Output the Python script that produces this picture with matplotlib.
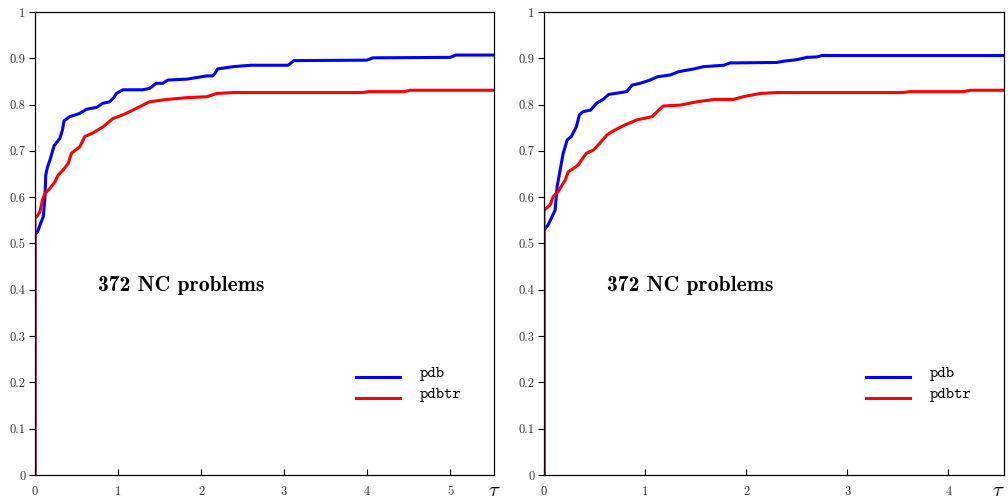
import matplotlib.pyplot as plt

plt.rcParams['mathtext.fontset'] = 'cm'
plt.rcParams['axes.formatter.use_mathtext'] = True

# left panel
tau_max_l = 5.53
pdb_l_x = [0, 0, 0.03, 0.06, 0.1, 0.12, 0.13, 0.15, 0.18, 0.23, 0.3, 0.33, 0.35, 0.42, 0.54, 0.62,
           0.74, 0.82, 0.9, 0.95, 0.98, 1.06, 1.3, 1.38, 1.46, 1.54, 1.6, 1.83, 2.07, 2.14, 2.17,
           2.2, 2.39, 2.6, 3.05, 3.12, 4.0, 4.07, 5.0, 5.07, 5.53]
pdb_l_y = [0, 0.52, 0.525, 0.54, 0.558, 0.6, 0.648, 0.665, 0.68, 0.711, 0.727, 0.745, 0.765, 0.774,
           0.781, 0.79, 0.794, 0.803, 0.806, 0.815, 0.824, 0.832, 0.832, 0.835, 0.846, 0.846, 0.853,
           0.855, 0.862, 0.862, 0.868, 0.877, 0.882, 0.885, 0.885, 0.895, 0.896, 0.901, 0.902,
           0.907, 0.907]
pdbtr_l_x = [0, 0, 0.03, 0.06, 0.09, 0.12, 0.18, 0.24, 0.28, 0.34, 0.4, 0.44, 0.54, 0.6, 0.7, 0.82,
             0.94, 1.06, 1.18, 1.3, 1.38, 1.58, 1.83, 2.07, 2.19, 2.39, 3.95, 4.02, 4.45, 4.52,
             5.53]
pdbtr_l_y = [0, 0.554, 0.56, 0.569, 0.594, 0.608, 0.619, 0.633, 0.648, 0.659, 0.673, 0.695, 0.709,
             0.731, 0.739, 0.752, 0.77, 0.778, 0.788, 0.799, 0.806, 0.811, 0.815, 0.817, 0.824,
             0.826, 0.826, 0.828, 0.828, 0.831, 0.831]

# right panel
tau_max_r = 4.55
pdb_r_x = [0, 0, 0.04, 0.08, 0.11, 0.13, 0.16, 0.19, 0.23, 0.27, 0.32, 0.35, 0.39, 0.46, 0.52, 0.59,
           0.64, 0.82, 0.87, 0.95, 1.05, 1.12, 1.25, 1.33, 1.48, 1.58, 1.78, 1.84, 2.3, 2.38, 2.5,
           2.6, 2.7, 2.75, 4.55]
pdb_r_y = [0, 0.529, 0.54, 0.558, 0.572, 0.623, 0.659, 0.695, 0.724, 0.731, 0.752, 0.778, 0.785,
           0.788, 0.803, 0.812, 0.822, 0.828, 0.842, 0.846, 0.853, 0.86, 0.864, 0.871, 0.877, 0.882,
           0.885, 0.89, 0.891, 0.894, 0.897, 0.902, 0.903, 0.906, 0.906]
pdbtr_r_x = [0, 0, 0.06, 0.09, 0.14, 0.17, 0.21, 0.24, 0.29, 0.34, 0.37, 0.42, 0.49, 0.55, 0.62, 0.7,
             0.8, 0.92, 1.07, 1.12, 1.18, 1.35, 1.51, 1.68, 1.87, 1.97, 2.14, 2.3, 3.55, 3.62,
             4.15, 4.22, 4.55]
pdbtr_r_y = [0, 0.572, 0.583, 0.601, 0.612, 0.623, 0.637, 0.655, 0.662, 0.67, 0.68, 0.695, 0.702,
             0.716, 0.734, 0.745, 0.756, 0.767, 0.774, 0.785, 0.797, 0.799, 0.806, 0.811, 0.811,
             0.817, 0.824, 0.826, 0.826, 0.828, 0.828, 0.831, 0.831]

y_ticks = [0, 0.1, 0.2, 0.3, 0.4, 0.5, 0.6, 0.7, 0.8, 0.9, 1]
y_labels = ['0', '0.1', '0.2', '0.3', '0.4', '0.5', '0.6', '0.7', '0.8', '0.9', '1']

fig = plt.figure(figsize=(10.08, 5.0), dpi=100)
ax1 = fig.add_axes([35 / 1008, 25 / 500, 459 / 1008, 463 / 500])
ax2 = fig.add_axes([544 / 1008, 25 / 500, 460 / 1008, 463 / 500])

panels = [
    (ax1, pdb_l_x, pdb_l_y, pdbtr_l_x, pdbtr_l_y, tau_max_l, [0, 1, 2, 3, 4, 5], 1.0),
    (ax2, pdb_r_x, pdb_r_y, pdbtr_r_x, pdbtr_r_y, tau_max_r, [0, 1, 2, 3, 4], 0.988),
]

for ax, bx, by, rx, ry, tmax, xt, tau_pos in panels:
    ax.plot(bx, by, color='#0000ff', lw=2.2, solid_joinstyle='round', label='pdb')
    ax.plot(rx, ry, color='#ff0000', lw=2.2, solid_joinstyle='round', label='pdbtr')
    ax.set_xlim(0, tmax)
    ax.set_ylim(0, 1)
    ax.set_xticks(xt)
    ax.set_xticklabels([str(t) for t in xt], fontfamily='cmr10', fontsize=9, color='#333333')
    ax.set_yticks(y_ticks)
    ax.set_yticklabels(y_labels, fontfamily='cmr10', fontsize=9, color='#333333')
    ax.tick_params(axis='x', direction='in', length=4, width=0.8, pad=8)
    ax.tick_params(axis='y', direction='out', length=4, width=0.8, pad=3)
    for s in ax.spines.values():
        s.set_linewidth(0.9)
    ax.text(tau_pos, -0.033, r'$\tau$', transform=ax.transAxes, fontsize=15,
            ha='center', va='center')
    ax.text(0.137, 0.41, '372 NC problems', transform=ax.transAxes,
            fontfamily='cmb10', fontsize=15.6, ha='left', va='center')
    # legend drawn by hand
    for yy, col, lab in [(0.212, '#0000ff', 'pdb'), (0.166, '#ff0000', 'pdbtr')]:
        ax.plot([0.70, 0.795], [yy, yy], color=col, lw=2.2, transform=ax.transAxes)
        ax.text(0.838, yy + 0.006, lab, transform=ax.transAxes, fontfamily='cmtt10',
                fontsize=11.5, ha='left', va='center')

fig.savefig('out.png', dpi=100)
